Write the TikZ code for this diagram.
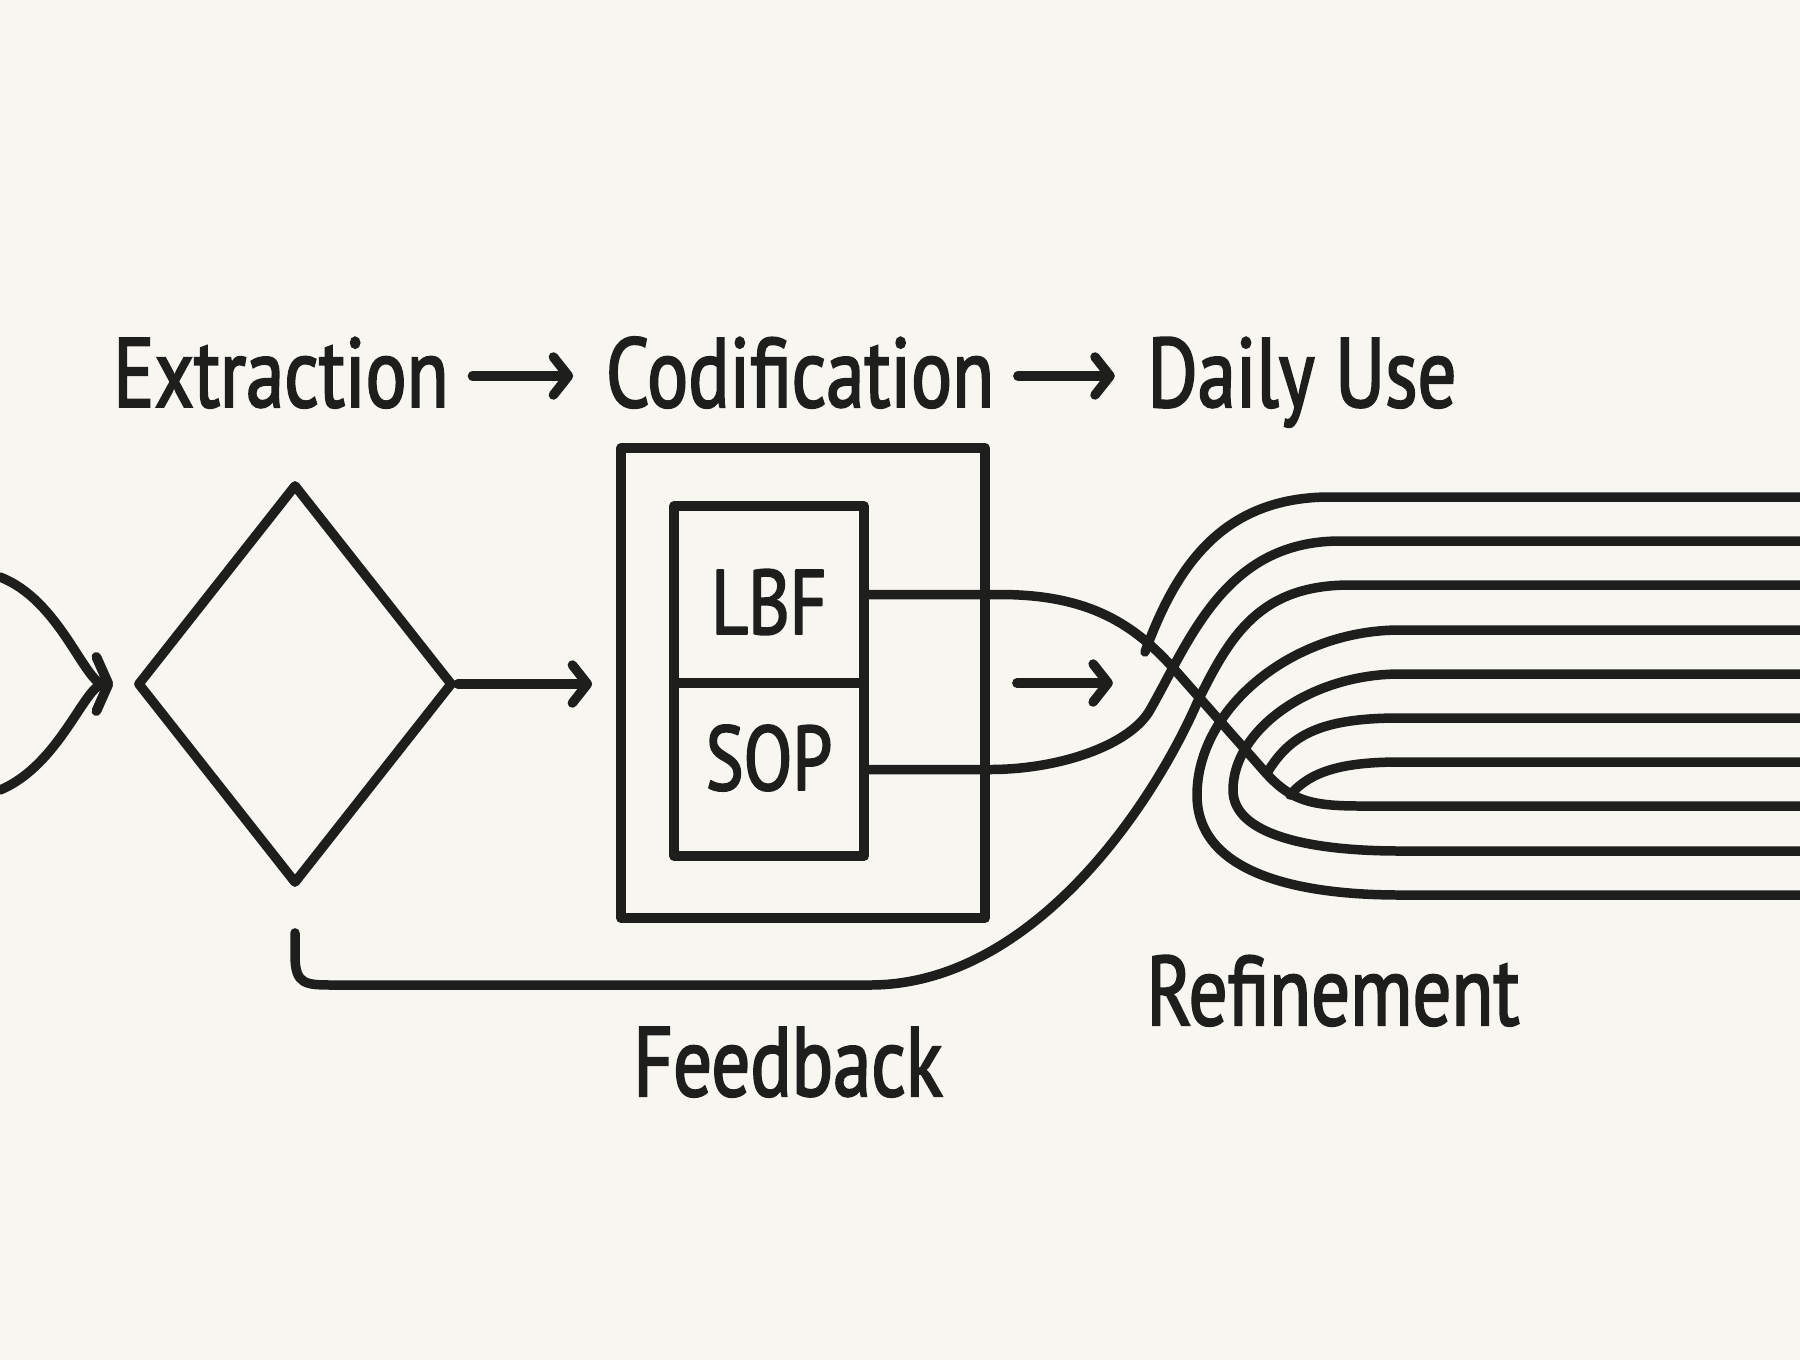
\documentclass[tikz,border=0pt]{standalone}
\usepackage{fontspec}
\setmainfont{PT Sans}[FakeStretch=0.78,FakeBold=2]
\usetikzlibrary{arrows.meta,positioning,shapes.geometric}
\definecolor{Ink}{HTML}{1E1E1C}
\definecolor{Paper}{HTML}{F7F6F1}
\tikzset{
 every node/.style={text=Ink},
 line/.style={draw=Ink,line width=2.7pt,line cap=round,line join=round},
 arr/.style={line,-{Straight Barb[length=1.5mm,width=3.8mm,round]}},
 wide/.style={line,-{Straight Barb[length=1.2mm,width=5.4mm,round]}},
 head/.style={font=\fontsize{28}{30}\selectfont,anchor=base,text height=.62cm,text depth=0pt,inner xsep=.23cm},
 cell/.style={line,minimum width=1.9cm,inner sep=0pt,font=\fontsize{26}{28}\selectfont},
 lbl/.style={font=\fontsize{28}{30}\selectfont,anchor=base},
}
\begin{document}
\begin{tikzpicture}[x=.01cm,y=-.01cm]
 \fill[Paper](0,0)rectangle(1800,1360);
 \useasboundingbox(0,0)rectangle(1800,1360);
 \node[head](ext)at(281,407){Extraction};
 \node[head](cod)at(800,407){Codification};
 \node[head](use)at(1302,407){Daily Use};
 \draw[arr,shorten >=.09cm](ext)--(cod);
 \draw[arr,shorten >=.09cm](cod)--(use);
 \node[diamond,line,aspect=.79,minimum width=3.16cm,minimum height=4cm,inner sep=0pt](gate)at(295,684){};
 \node[line,minimum width=3.64cm,minimum height=4.7cm](box)at(803,683){};
 \node[cell,minimum height=1.77cm,text height=.79cm,text depth=0pt](lbf)at(769,594.5){LBF};
 \node[cell,minimum height=1.73cm,text height=.6cm,text depth=.19cm](sop)at(769,769.5){SOP};
 \node[lbl](fbl)at(788,1096){Feedback};
 \node[lbl](ref)at(1333,1025){Refinement};
 \coordinate(tip)at([xshift=-.19cm]gate.west);
 \coordinate(in1)at(0,577);\coordinate(in2)at(0,790);
 \draw[wide](in1)..controls(60,600)and(85,684)..(tip);
 \draw[wide](in2)..controls(60,765)and(85,684)..(tip);
 \draw[arr,shorten >=.24cm](gate.east)--(gate.east-|box.west);
 \draw[arr]([xshift=.27cm]box.east)--++(96,0);
 \coordinate(fb)at([yshift=-.44cm]gate.south);
 \coordinate(e1)at(1145,652);\coordinate(e6)at(1267,773);\coordinate(e7)at(1290,795);
 \draw[line](lbf.east)--(1000,594.5)..controls(1090,594.5)and(1135,625)..(1175,670)--(1265,772)
  ..controls(1290,800)and(1310,806)..(1360,806)--(1800,806);
 \draw[line](sop.east)--(990,769.5)..controls(1060,769.5)and(1130,745)..(1150,710)
  ..controls(1190,640)and(1225,541)..(1340,541)--(1800,541);
 \draw[line](fb)--(295,955)..controls(295,985)and(305,985)..(335,985)--(870,985)
  ..controls(1030,985)and(1150,810)..(1197,703)..controls(1230,635)and(1260,585)..(1350,585)--(1800,585);
 \draw[line](e1)..controls(1175,570)and(1220,497)..(1330,497)--(1800,497);
 \draw[line](e6)..controls(1290,735)and(1320,718)..(1400,718)--(1800,718);
 \draw[line](e7)..controls(1310,772)and(1340,762)..(1400,762)--(1800,762);
 \draw[line](1800,630)--(1400,630)..controls(1290,630)and(1197,710)..(1197,795)
  ..controls(1197,870)and(1290,895)..(1400,895)--(1800,895);
 \draw[line](1800,674)--(1400,674)..controls(1310,674)and(1233,730)..(1233,790)
  ..controls(1233,835)and(1310,851)..(1400,851)--(1800,851);
\end{tikzpicture}
\end{document}
